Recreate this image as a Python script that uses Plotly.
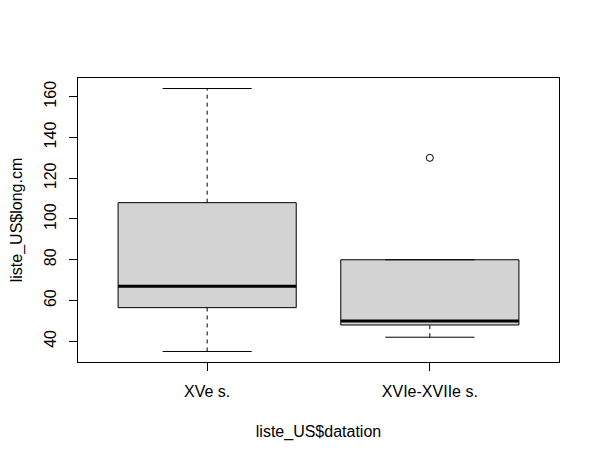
import plotly.graph_objects as go

categories = ["XVe s.", "XVIe-XVIIe s."]
lower_whisker = [35, 42]
q1 = [56.5, 48]
median = [67, 50]
q3 = [108, 80]
upper_whisker = [164, 80]
outlier_group = [2]
outlier_values = [130]

x_title = "liste_US$datation"
y_title = "liste_US$long.cm"
y_ticks = [40, 60, 80, 100, 120, 140, 160]

FONT = "Liberation Sans, Arial, sans-serif"
half_box = 0.4
half_cap = 0.2

fig = go.Figure()
for i, cat in enumerate(categories):
    p = i + 1
    dash_line = dict(color="black", width=1, dash="4px,4px")
    fig.add_trace(go.Scatter(x=[p, p], y=[q3[i], upper_whisker[i]], mode="lines",
                             line=dash_line, hoverinfo="skip"))
    fig.add_trace(go.Scatter(x=[p, p], y=[lower_whisker[i], q1[i]], mode="lines",
                             line=dash_line, hoverinfo="skip"))
    fig.add_trace(go.Scatter(x=[p - half_box, p + half_box, p + half_box, p - half_box, p - half_box],
                             y=[q1[i], q1[i], q3[i], q3[i], q1[i]],
                             mode="lines", fill="toself", fillcolor="#d3d3d3",
                             line=dict(color="black", width=1), name=cat))
    fig.add_trace(go.Scatter(x=[p - half_box, p + half_box], y=[median[i], median[i]],
                             mode="lines", line=dict(color="black", width=3), hoverinfo="skip"))
    fig.add_trace(go.Scatter(x=[p - half_cap, p + half_cap], y=[upper_whisker[i], upper_whisker[i]],
                             mode="lines", line=dict(color="black", width=1), hoverinfo="skip"))
    fig.add_trace(go.Scatter(x=[p - half_cap, p + half_cap], y=[lower_whisker[i], lower_whisker[i]],
                             mode="lines", line=dict(color="black", width=1), hoverinfo="skip"))

fig.add_trace(go.Scatter(x=outlier_group, y=outlier_values, mode="markers",
                         marker=dict(symbol="circle-open", size=7, color="black", line=dict(width=1))))

fig.update_layout(
    width=600, height=460,
    margin=dict(l=70, r=49, t=70, b=106),
    paper_bgcolor="white", plot_bgcolor="white",
    showlegend=False,
    font=dict(family=FONT, size=16, color="black"),
)
fig.update_xaxes(range=[0.42, 2.58], tickvals=[1, 2], ticktext=categories,
                 showgrid=False, zeroline=False, showline=True, mirror=True,
                 linecolor="black", linewidth=1, ticks="outside", ticklen=8,
                 tickcolor="black", tickfont=dict(size=16), ticklabelstandoff=7,
                 automargin=False,
                 title=dict(text=x_title, font=dict(size=16), standoff=26))
fig.update_yaxes(range=[29.84, 169.16], tickvals=y_ticks,
                 showgrid=False, zeroline=False, showline=True, mirror=True,
                 linecolor="black", linewidth=1, ticks="outside", ticklen=8,
                 tickcolor="black", tickangle=-90, tickfont=dict(size=16),
                 ticklabelstandoff=7, automargin=False,
                 title=dict(text=y_title, font=dict(size=16), standoff=16))

fig.write_html("out.html")
